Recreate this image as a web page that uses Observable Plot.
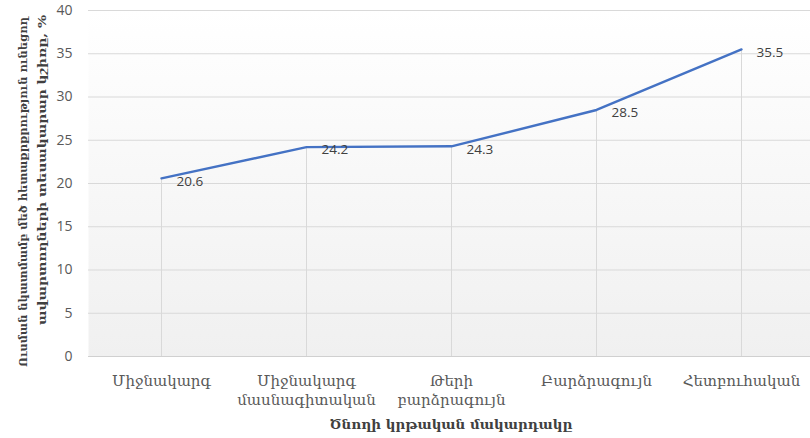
<!DOCTYPE html>
<html>
<head>
<meta charset="utf-8">
<script src="https://cdn.jsdelivr.net/npm/d3@7"></script>
<script src="https://cdn.jsdelivr.net/npm/@observablehq/plot@0.6"></script>
<style>
  html, body { margin: 0; padding: 0; background: #fff; }
  #chart { width: 810px; height: 438px; position: relative; }
</style>
</head>
<body>
<div id="chart"></div>
<script>
const categories = ["Միջնակարգ", "Միջնակարգ մասնագիտական", "Թերի բարձրագույն", "Բարձրագույն", "Հետբուհական"];
const tickLabels = ["Միջնակարգ", "Միջնակարգ\nմասնագիտական", "Թերի\nբարձրագույն", "Բարձրագույն", "Հետբուհական"];
const values = [20.6, 24.2, 24.3, 28.5, 35.5];
const yTicks = [0, 5, 10, 15, 20, 25, 30, 35, 40];
const xTitle = "Ծնողի կրթական մակարդակը";
const yTitle1 = "Ուսման նկատմամբ մեծ հետաքրքրություն ունեցող";
const yTitle2 = "ավարտողների տեսակարար կշիռը, %";

const data = categories.map((c, i) => ({cat: c, value: values[i]}));
const labelOf = new Map(categories.map((c, i) => [c, tickLabels[i]]));

const numFont = "'Open Sans', 'Liberation Sans', sans-serif";
const armFont = "'DejaVu Serif', 'Noto Serif Armenian', serif";

const chart = Plot.plot({
  width: 810,
  height: 438,
  marginLeft: 88,
  marginRight: -4,
  marginTop: 10,
  marginBottom: 82,
  style: {fontFamily: numFont, background: "transparent"},
  x: {type: "point", domain: categories, padding: 0.5, axis: null},
  y: {domain: [0, 40], axis: null},
  marks: [
    Plot.frame({fill: "url(#plotbg)", stroke: null}),
    Plot.gridY(yTicks, {stroke: "#d9d9d9", strokeOpacity: 1, strokeWidth: 1}),
    Plot.ruleX(data, {x: "cat", y1: 0, y2: "value", stroke: "#d9d9d9", strokeWidth: 1}),
    Plot.ruleY([0], {stroke: "#d0d0d0", strokeWidth: 1}),
    Plot.axisY(yTicks, {
      tickSize: 0, tickPadding: 16, fontSize: 14, fill: "#595959",
      label: null, fontFamily: numFont
    }),
    Plot.axisX({
      tickSize: 0, tickPadding: 16, fontSize: 15, fill: "#595959",
      tickFormat: d => labelOf.get(d), lineHeight: 1.25, label: null,
      fontFamily: armFont
    }),
    Plot.line(data, {x: "cat", y: "value", stroke: "#4472C4", strokeWidth: 2.4}),
    Plot.text(data, {
      x: "cat", y: "value", text: d => d.value.toFixed(1),
      dx: 15, dy: 3, textAnchor: "start", fontSize: 13.5, fill: "#404040",
      fontFamily: numFont
    })
  ]
});

// background gradient definition for plot area
const svg = d3.select(chart);
const defs = svg.insert("defs", ":first-child");
const grad = defs.append("linearGradient").attr("id", "plotbg")
  .attr("x1", 0).attr("y1", 0).attr("x2", 0).attr("y2", 1);
grad.append("stop").attr("offset", "0%").attr("stop-color", "#ffffff");
grad.append("stop").attr("offset", "100%").attr("stop-color", "#f0f0f0");

// axis titles
svg.append("text")
  .attr("x", 451).attr("y", 429)
  .attr("text-anchor", "middle")
  .attr("font-family", armFont)
  .attr("font-weight", "bold")
  .attr("font-size", 13.5)
  .attr("fill", "#404040")
  .text(xTitle);

svg.append("text")
  .attr("transform", "translate(27,192) rotate(-90)")
  .attr("text-anchor", "middle")
  .attr("font-family", armFont)
  .attr("font-weight", "bold")
  .attr("font-size", 11.5)
  .attr("fill", "#404040")
  .attr("textLength", 350)
  .attr("lengthAdjust", "spacingAndGlyphs")
  .text(yTitle1);
svg.append("text")
  .attr("transform", "translate(46,170) rotate(-90)")
  .attr("text-anchor", "middle")
  .attr("font-family", armFont)
  .attr("font-weight", "bold")
  .attr("font-size", 11.5)
  .attr("fill", "#404040")
  .attr("textLength", 310)
  .attr("lengthAdjust", "spacingAndGlyphs")
  .text(yTitle2);

document.getElementById("chart").appendChild(chart);
</script>
</body>
</html>
